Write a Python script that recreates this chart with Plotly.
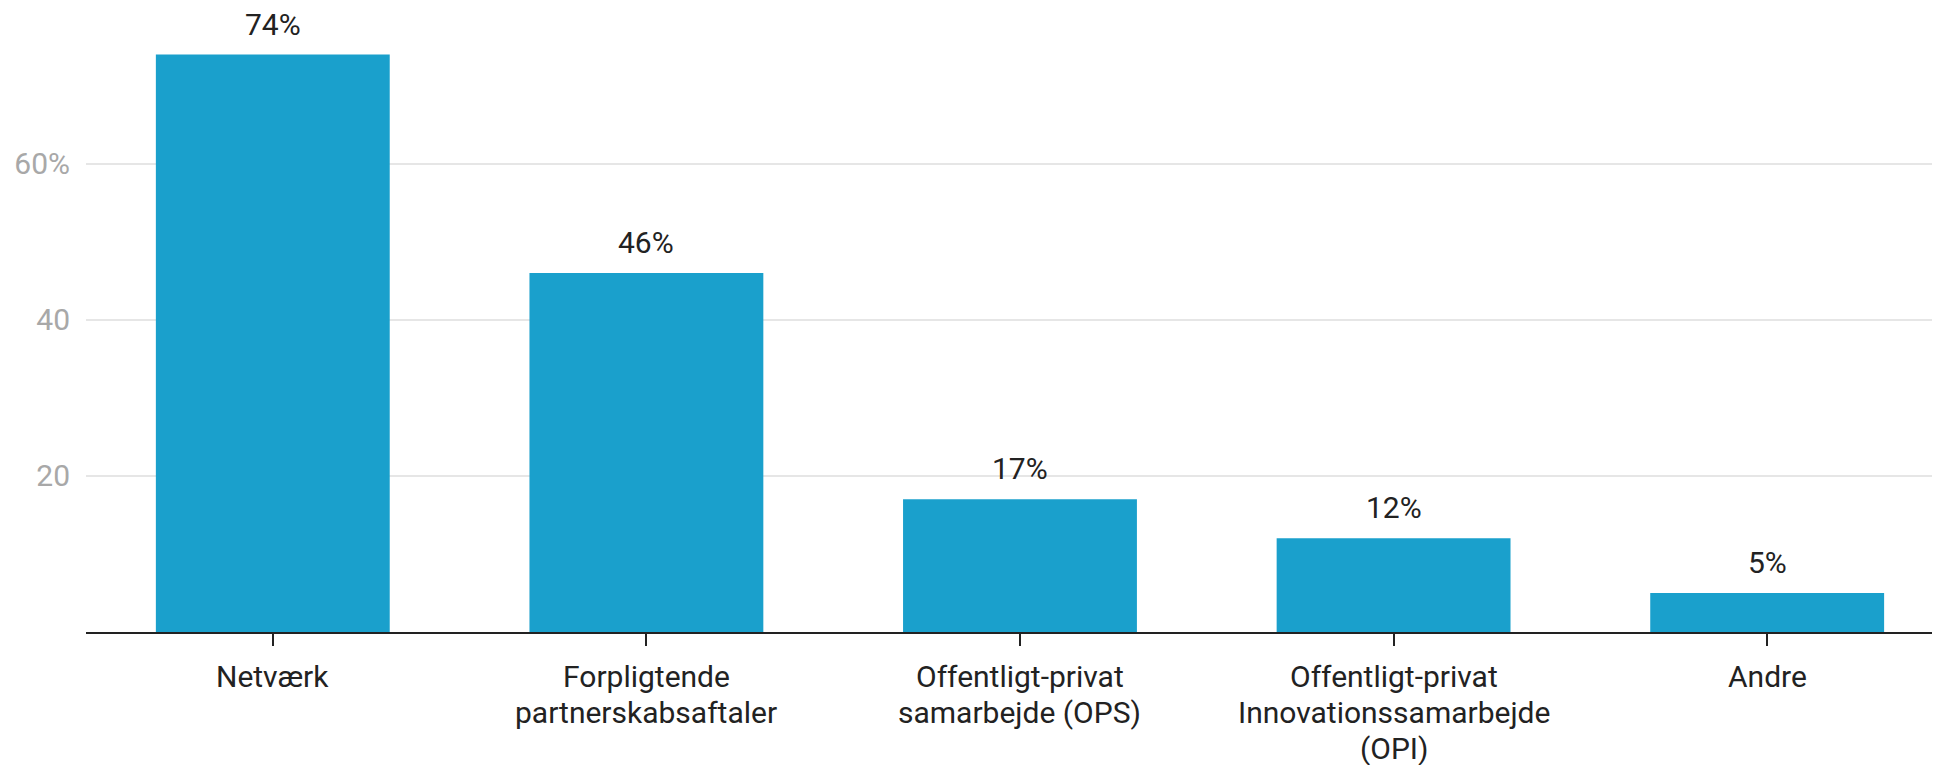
import plotly.graph_objects as go

categories = ["Netværk", "Forpligtende|partnerskabsaftaler", "Offentligt-privat|samarbejde (OPS)",
              "Offentligt-privat|Innovationssamarbejde|(OPI)", "Andre"]
values = [74, 46, 17, 12, 5]
value_labels = ["74%", "46%", "17%", "12%", "5%"]
y_tickvals = [20, 40, 60]
y_ticktext = ["20", "40", "60%"]

BAR_COLOR = "#1aa0cc"
TEXT_COLOR = "#222222"
FONT = "Roboto"
FS = 30
LINE_H = 36

x_idx = list(range(len(categories)))

fig = go.Figure()
fig.add_trace(go.Bar(
    x=x_idx, y=values, width=0.626,
    marker=dict(color=BAR_COLOR, line=dict(width=0)),
    hoverinfo="skip",
))

for xi, v, lab in zip(x_idx, values, value_labels):
    fig.add_annotation(x=xi, y=v, text=lab, showarrow=False, yanchor="bottom",
                       yshift=11, font=dict(family=FONT, size=FS, color=TEXT_COLOR))

# category labels, one annotation per line for tighter line spacing
for xi, cat in zip(x_idx, categories):
    for li, line in enumerate(cat.split("|")):
        fig.add_annotation(x=xi, y=0, text=line, showarrow=False, yanchor="middle",
                           yshift=-44 - li * LINE_H,
                           font=dict(family=FONT, size=FS, color=TEXT_COLOR))

fig.update_layout(
    width=1940, height=765,
    margin=dict(l=78, r=0, t=31, b=141),
    paper_bgcolor="white", plot_bgcolor="white",
    showlegend=False,
    font=dict(family=FONT, size=FS, color=TEXT_COLOR),
    xaxis=dict(
        range=[-0.5, 4.484], tickvals=x_idx, showticklabels=False,
        showgrid=False, zeroline=False,
        showline=True, linecolor="#222222", linewidth=2,
        ticks="outside", ticklen=12, tickwidth=2, tickcolor="#222222",
    ),
    yaxis=dict(
        range=[0, 76], tickvals=y_tickvals, ticktext=y_ticktext,
        showgrid=True, gridcolor="#e6e6e6", gridwidth=2,
        zeroline=False, showline=False, ticks="",
        ticklabelstandoff=15,
        tickfont=dict(family=FONT, size=FS, color="#a8a8a8"),
    ),
)

fig.write_html("out.html")
